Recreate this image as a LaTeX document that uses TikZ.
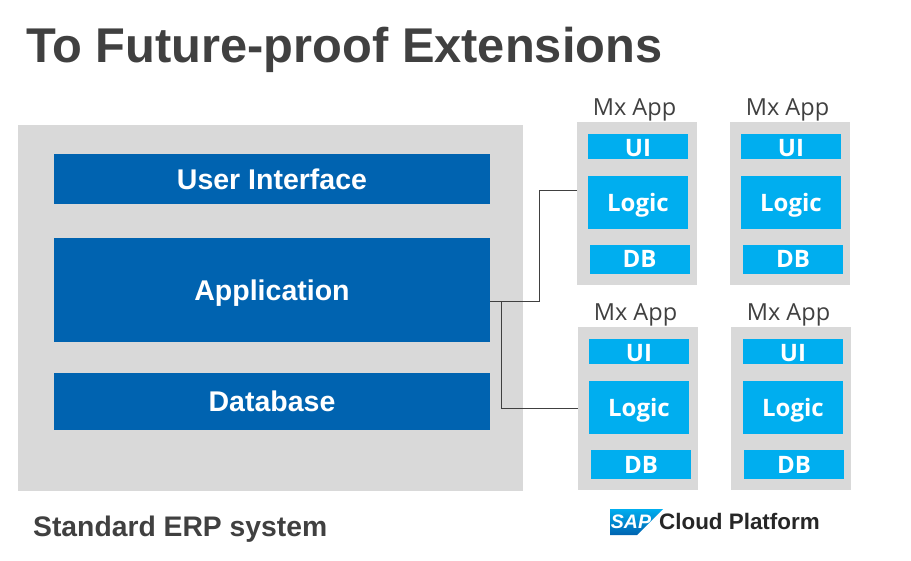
\documentclass[tikz,border=0pt]{standalone}
\usepackage{fontspec}
\setmainfont{Liberation Sans}
\newfontfamily\uifont{Open Sans}
\usetikzlibrary{calc,positioning}
\definecolor{erpblue}{HTML}{0063B0}
\definecolor{appblue}{HTML}{00AEEF}
\definecolor{panelgray}{HTML}{D9D9D9}
\definecolor{inkgray}{HTML}{404040}
\tikzset{
  panel/.style={fill=panelgray, inner sep=0pt, outer sep=0pt},
  erpbox/.style={fill=erpblue, text=white, inner sep=0pt, outer sep=0pt, minimum width=436pt, text height=21pt, text depth=0pt, font=\bfseries\fontsize{28.5}{28.5}\selectfont},
  appbox/.style={panel, minimum width=120pt, minimum height=163pt},
  partbox/.style={fill=appblue, text=white, inner sep=0pt, outer sep=0pt, minimum width=100pt, text height=17pt, text depth=0pt, font=\uifont\bfseries\fontsize{24}{24}\selectfont},
  uibox/.style={partbox, minimum height=25pt, text height=20pt},
  logicbox/.style={partbox, minimum height=53pt, text height=19pt},
  dbbox/.style={partbox, minimum height=29pt},
  applabel/.style={text=inkgray, inner sep=0pt, xshift=-2.5pt, font=\uifont\fontsize{23.5}{23.5}\selectfont},
  heading/.style={text=inkgray, inner sep=0pt, anchor=base west, font=\bfseries},
  link/.style={draw=inkgray, line width=1pt},
}

\begin{document}
\begin{tikzpicture}[x=1pt, y=-1pt]
\useasboundingbox (0,0) rectangle (911,561);

\node[heading, font=\bfseries\fontsize{48.8}{48.8}\selectfont] (title) at (26,63) {To Future-proof Extensions};

% standard system
\node[panel, minimum width=505pt, minimum height=366pt] (erp) at (270.5,308) {};
\node[erpbox, minimum height=50pt] (userinterface) at (272,179) {User Interface};
\node[erpbox, minimum height=104pt, below=34pt of userinterface] (application) {Application};
\node[erpbox, minimum height=57pt, below=31pt of application] (database) {Database};
\node[heading, font=\bfseries\fontsize{28.3}{28.3}\selectfont] (erplabel) at (33,536) {Standard ERP system};

% extension apps
\node[appbox] (appA) at (637,203.5) {};
\node[appbox] (appB) at (790,203.5) {};
\node[appbox] (appC) at (638,408.5) {};
\node[appbox] (appD) at (791,408.5) {};

\node[applabel, above=0.5pt of appA] (nameA) {Mx App};
\node[applabel, above=0.5pt of appB] (nameB) {Mx App};
\node[applabel, above=0.5pt of appC] (nameC) {Mx App};
\node[applabel, above=0.5pt of appD] (nameD) {Mx App};

\node[uibox, below=12pt of appA.north, xshift=1pt] (uiA) {UI};
\node[logicbox, below=17pt of uiA] (logicA) {Logic};
\node[dbbox, below=16pt of logicA, xshift=1.5pt] (dbA) {DB};

\node[uibox, below=12pt of appB.north, xshift=1pt] (uiB) {UI};
\node[logicbox, below=17pt of uiB] (logicB) {Logic};
\node[dbbox, below=16pt of logicB, xshift=2pt] (dbB) {DB};

\node[uibox, below=12pt of appC.north, xshift=1pt] (uiC) {UI};
\node[logicbox, below=17pt of uiC] (logicC) {Logic};
\node[dbbox, below=16pt of logicC, xshift=2pt] (dbC) {DB};

\node[uibox, below=12pt of appD.north, xshift=2pt] (uiD) {UI};
\node[logicbox, below=17pt of uiD] (logicD) {Logic};
\node[dbbox, below=16pt of logicD, xshift=1pt] (dbD) {DB};

\draw[link] ([yshift=-11.5pt]application.east) -- ++(49,0) |- ([yshift=12.5pt]appA.west);
\draw[link] ([xshift=11pt,yshift=-11.5pt]application.east) |- (appC.west);

% platform logo
\shade[top color=appblue, bottom color=erpblue] (610,509) -- (663,509) -- (637,535) -- (610,535) -- cycle;
\node[text=white, inner sep=0pt, font=\bfseries\itshape\fontsize{19.5}{19.5}\selectfont] (saplogo) at (631,522) {SAP};
\node[inner sep=0pt, anchor=base west, text=black!85, font=\bfseries\fontsize{22.4}{22.4}\selectfont] (platform) at (659,529) {Cloud Platform};
\end{tikzpicture}
\end{document}
